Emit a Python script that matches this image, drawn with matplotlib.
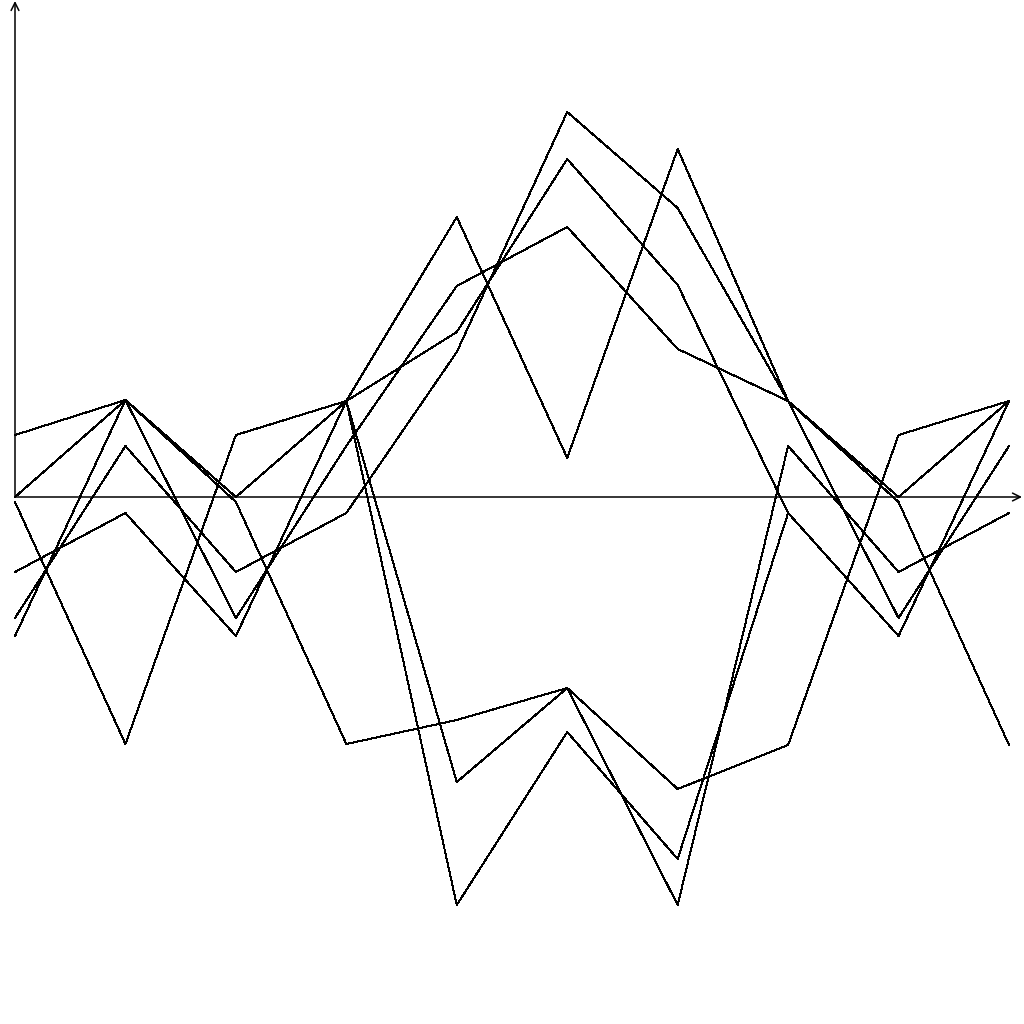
import numpy as np
import matplotlib
matplotlib.use("Agg")
import matplotlib.pyplot as plt

# Ten sample positions along the x axis
x_points = [0, 1, 2, 3, 4, 5, 6, 7, 8, 9]

# Seven series (zero = the x axis)
series_1 = [-0.5, -24.7, 6.2, 9.6, 28.0, 3.9, 34.8, 9.6, 0.0, 9.6]
series_2 = [6.2, 9.7, 0.0, 9.6, 16.5, 33.8, 21.2, -1.6, -13.9, 9.6]
series_3 = [-7.5, -1.6, -13.9, 9.6, -28.5, -19.1, -29.2, -24.8, 6.2, 9.6]
series_4 = [-7.5, -1.6, -13.9, 9.6, -40.8, -23.5, -36.2, -1.6, -13.9, 9.6]
series_5 = [0.0, 9.7, -12.1, 5.1, 21.1, 27.0, 14.8, 9.6, -12.1, 5.1]
series_6 = [-12.1, 5.1, -7.5, -1.6, 14.5, 38.5, 28.9, 9.6, -0.5, -24.8]
series_7 = [-13.9, 9.7, -0.5, -24.7, -22.3, -19.1, -40.8, 5.1, -7.5, -1.6]

all_series = [series_1, series_2, series_3, series_4, series_5, series_6, series_7]

fig = plt.figure(figsize=(10.24, 10.24), dpi=100)
ax = fig.add_axes([0, 0, 1, 1])
ax.set_axis_off()

# map: x=0 -> pixel 15, x=9 -> pixel 1009 ; y=0 -> pixel 497, 10 px per unit
px_per_x = (1009 - 15) / 9.0
ax.set_xlim(0 - 15 / px_per_x, 9 + (1024 - 1009) / px_per_x)
ax.set_ylim(-(1024 - 497) / 10.0, 497 / 10.0)

for s in all_series:
    ax.plot(x_points, s, color='black', linewidth=0.7, antialiased=False)

# axes drawn as plain arrows from the origin
arrow = dict(arrowstyle='->', color='black', lw=1.1, mutation_scale=14,
             shrinkA=0, shrinkB=0)
ax.annotate('', xy=(0, 49.6), xytext=(0, 0), arrowprops=arrow)
ax.annotate('', xy=(9 + 13 / px_per_x, 0), xytext=(0, 0), arrowprops=arrow)

fig.savefig('out.png', dpi=100, facecolor='white')
plt.close(fig)
